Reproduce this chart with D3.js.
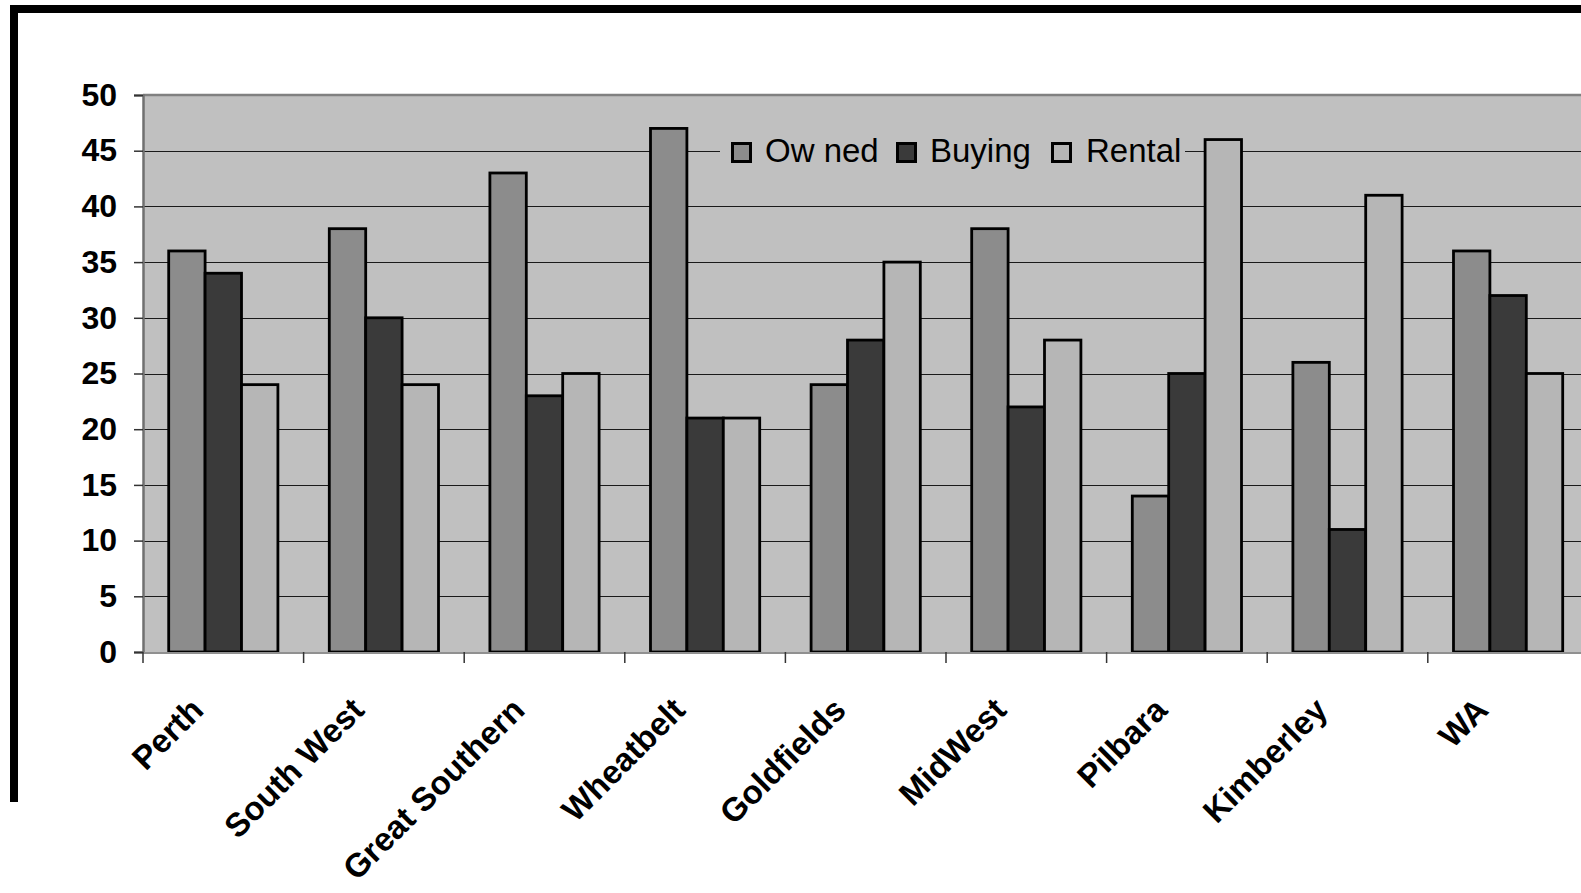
<!DOCTYPE html>
<html>
<head>
<meta charset="utf-8">
<script src="https://cdn.jsdelivr.net/npm/d3@7"></script>
<style>
  html, body { margin: 0; padding: 0; background: #ffffff; }
  svg { display: block; }
</style>
</head>
<body>
<script>
// ---- Data ----
const categories = ["Perth", "South West", "Great Southern", "Wheatbelt", "Goldfields", "MidWest", "Pilbara", "Kimberley", "WA"];
const seriesNames = ["Ow ned", "Buying", "Rental"];
const owned  = [36, 38, 43, 47, 24, 38, 14, 26, 36];
const buying = [34, 30, 23, 21, 28, 22, 25, 11, 32];
const rental = [24, 24, 25, 21, 35, 28, 46, 41, 25];
const yTicks = [0, 5, 10, 15, 20, 25, 30, 35, 40, 45, 50];
const seriesColors = ["#8c8c8c", "#3a3a3a", "#b6b6b6"];

const seriesValues = [owned, buying, rental];

// ---- Layout ----
const W = 1581, H = 893;
const plotLeft = 143, plotTop = 95, plotBottom = 652;
const catStep = 160.6;
const plotRight = plotLeft + categories.length * catStep;

const svg = d3.select("body").append("svg")
  .attr("width", W).attr("height", H);

const y = d3.scaleLinear().domain([0, 50]).range([plotBottom, plotTop]);

const x0 = d3.scaleBand().domain(categories)
  .range([plotLeft, plotRight])
  .paddingInner(0.32).paddingOuter(0.16);
const x1 = d3.scaleBand().domain(seriesNames)
  .range([0, x0.bandwidth()]).padding(0);

// outer frame
svg.append("path")
  .attr("d", `M14,802 V9 H${W}`)
  .attr("fill", "none").attr("stroke", "#000").attr("stroke-width", 8);

// plot background
svg.append("rect")
  .attr("x", plotLeft).attr("y", plotTop)
  .attr("width", plotRight - plotLeft).attr("height", plotBottom - plotTop)
  .attr("fill", "#c0c0c0");

// gridlines
svg.append("g").selectAll("line")
  .data(yTicks.filter(t => t > 0 && t < 50))
  .join("line")
  .attr("x1", plotLeft).attr("x2", plotRight)
  .attr("y1", d => Math.round(y(d)) + 0.5).attr("y2", d => Math.round(y(d)) + 0.5)
  .attr("stroke", "#1a1a1a").attr("stroke-width", 1.2);

// top border of plot
svg.append("line")
  .attr("x1", plotLeft).attr("x2", plotRight)
  .attr("y1", plotTop).attr("y2", plotTop)
  .attr("stroke", "#808080").attr("stroke-width", 2.5);

// legend box (covers the gridline)
const legend = svg.append("g");
legend.append("rect")
  .attr("x", 720).attr("y", 131).attr("width", 465).attr("height", 42)
  .attr("fill", "#c0c0c0");
const legendItems = [
  { sx: 731, tx: 765 },
  { sx: 896, tx: 930 },
  { sx: 1051, tx: 1086 }
];
seriesNames.forEach((name, i) => {
  legend.append("rect")
    .attr("x", legendItems[i].sx + 1.5).attr("y", 143.5)
    .attr("width", 18).attr("height", 18)
    .attr("fill", seriesColors[i]).attr("stroke", "#000").attr("stroke-width", 3);
  legend.append("text")
    .attr("x", legendItems[i].tx).attr("y", 162)
    .attr("font-family", "'Liberation Sans', Arial, sans-serif")
    .attr("font-size", 33)
    .attr("fill", "#000")
    .text(name);
});

// bars
const groups = svg.append("g").selectAll("g")
  .data(categories)
  .join("g")
  .attr("transform", d => `translate(${x0(d)},0)`);

groups.selectAll("rect")
  .data((c, ci) => seriesNames.map((s, si) => ({ s, si, v: seriesValues[si][ci] })))
  .join("rect")
  .attr("x", d => x1(d.s))
  .attr("width", x1.bandwidth())
  .attr("y", d => y(d.v))
  .attr("height", d => y(0) - y(d.v))
  .attr("fill", d => seriesColors[d.si])
  .attr("stroke", "#000").attr("stroke-width", 2.8);

// y axis
const yAxis = d3.axisLeft(y).tickValues(yTicks).tickSize(9).tickPadding(17)
  .tickFormat(d3.format("d"));
const gy = svg.append("g").attr("transform", `translate(${plotLeft},0)`).call(yAxis);
gy.select(".domain").attr("stroke", "#707070").attr("stroke-width", 2.5);
gy.selectAll(".tick line").attr("stroke", "#333").attr("stroke-width", 1.5);
gy.selectAll(".tick text")
  .attr("font-family", "'Liberation Sans', Arial, sans-serif")
  .attr("font-weight", "bold").attr("font-size", 32).attr("fill", "#000");

// x axis line
svg.append("line")
  .attr("x1", plotLeft).attr("x2", plotRight)
  .attr("y1", plotBottom + 1).attr("y2", plotBottom + 1)
  .attr("stroke", "#909090").attr("stroke-width", 2);

// category boundary ticks
svg.append("g").selectAll("line")
  .data(categories)
  .join("line")
  .attr("x1", d => x0(d) - x0.paddingOuter() * x0.step())
  .attr("x2", d => x0(d) - x0.paddingOuter() * x0.step())
  .attr("y1", plotBottom).attr("y2", plotBottom + 11)
  .attr("stroke", "#333").attr("stroke-width", 1.5);

// category labels
svg.append("g").selectAll("text")
  .data(categories)
  .join("text")
  .attr("transform", d => `translate(${x0(d) + x0.bandwidth() / 2 - 18},${plotBottom + 60}) rotate(-45)`)
  .attr("text-anchor", "end")
  .attr("font-family", "'Liberation Sans', Arial, sans-serif")
  .attr("font-weight", "bold").attr("font-size", 33).attr("fill", "#000")
  .text(d => d);
</script>
</body>
</html>
